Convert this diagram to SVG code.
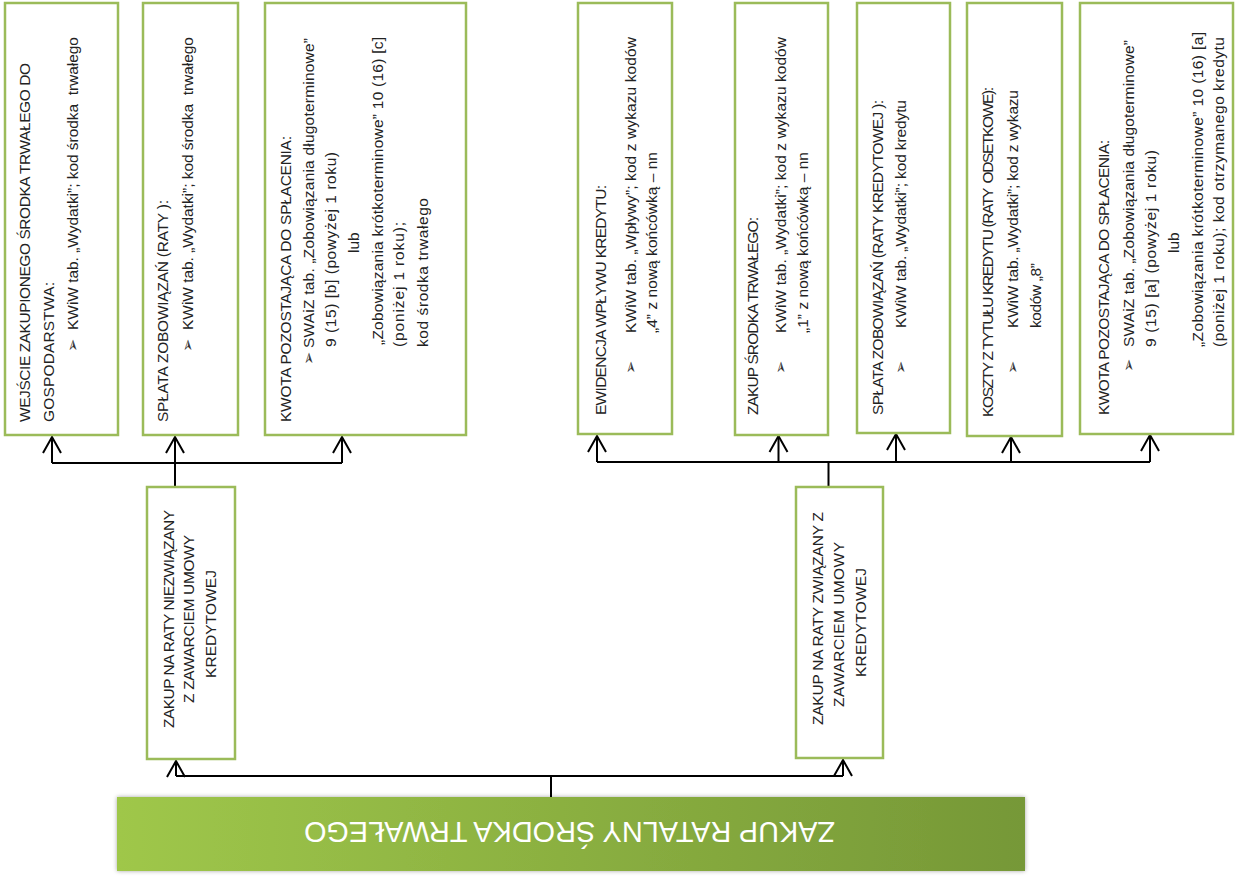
<svg xmlns="http://www.w3.org/2000/svg" width="1239" height="877" viewBox="0 0 1239 877">
<style>
.box{fill:#fff;stroke:#9bbb59;stroke-width:2.5}
.t{font-family:"Liberation Sans",Arial,sans-serif;font-size:15.5px;fill:#222}
.b{font-family:"DejaVu Sans",sans-serif;font-size:16px;fill:#333}
.ban{font-family:"Liberation Sans",Arial,sans-serif;font-size:30px;fill:#fff}
.c{fill:none;stroke:#000;stroke-width:2}
</style>
<defs>
<marker id="arr" markerUnits="userSpaceOnUse" markerWidth="22" markerHeight="22" viewBox="-19 -11 22 22" refX="0" refY="0" orient="auto">
<path d="M-16,-9 L0,0 L-16,9" fill="none" stroke="#000" stroke-width="2"/>
</marker>
<linearGradient id="g" x1="0" y1="0" x2="1" y2="0">
<stop offset="0" stop-color="#9fc74a"/>
<stop offset="1" stop-color="#769837"/>
</linearGradient>
<filter id="sh" x="-5%" y="-30%" width="110%" height="160%">
<feDropShadow dx="0" dy="0" stdDeviation="2" flood-color="#000" flood-opacity="0.35"/>
</filter>
</defs>

<g id="connectors">
<path class="c" d="M52,463 H342 M175,487 V463"/>
<path class="c" d="M52,463 V437" marker-end="url(#arr)"/>
<path class="c" d="M175,463 V437" marker-end="url(#arr)"/>
<path class="c" d="M342,463 V437" marker-end="url(#arr)"/>
<path class="c" d="M597,462 H1150 M828.5,487 V462"/>
<path class="c" d="M597,462 V436" marker-end="url(#arr)"/>
<path class="c" d="M778.5,462 V436" marker-end="url(#arr)"/>
<path class="c" d="M896,462 V434" marker-end="url(#arr)"/>
<path class="c" d="M1011,462 V437" marker-end="url(#arr)"/>
<path class="c" d="M1150,462 V435" marker-end="url(#arr)"/>
<path class="c" d="M176,776 H843 M551,797 V776"/>
<path class="c" d="M176,776 V761" marker-end="url(#arr)"/>
<path class="c" d="M843,776 V760" marker-end="url(#arr)"/>
</g>

<g id="root">
<rect x="117" y="797" width="908" height="74" fill="url(#g)" filter="url(#sh)"/>
<text class="ban" x="569.5" y="847" text-anchor="middle" textLength="531" lengthAdjust="spacingAndGlyphs" transform="rotate(180 569.5 834.5)">ZAKUP RATALNY ŚRODKA TRWAŁEGO</text>
</g>

<g id="mid-left">
<rect class="box" x="147" y="487" width="88" height="272"/>
<g transform="rotate(-90)">
<text class="t" x="-728" y="174" textLength="218">ZAKUP NA RATY NIEZWIĄZANY</text>
<text class="t" x="-703" y="194" textLength="168">Z ZAWARCIEM UMOWY</text>
<text class="t" x="-678" y="216" textLength="108">KREDYTOWEJ</text>
</g>
</g>

<g id="mid-right">
<rect class="box" x="796" y="487" width="87" height="271"/>
<g transform="rotate(-90)">
<text class="t" x="-725" y="823" textLength="213">ZAKUP NA RATY ZWIĄZANY Z</text>
<text class="t" x="-707" y="844" textLength="165">ZAWARCIEM UMOWY</text>
<text class="t" x="-677" y="866" textLength="109">KREDYTOWEJ</text>
</g>
</g>

<g id="box1">
<rect class="box" x="5" y="3" width="113" height="432"/>
<g transform="rotate(-90)">
<text class="t" x="-422" y="30" textLength="359">WEJŚCIE ZAKUPIONEGO ŚRODKA TRWAŁEGO DO</text>
<text class="t" x="-422" y="54" textLength="140">GOSPODARSTWA:</text>
<text class="b" x="-352" y="78">➢</text>
<text class="t" x="-330" y="78" textLength="293" xml:space="preserve">KWiW tab. „Wydatki”; kod środka  trwałego</text>
</g>
</g>

<g id="box2">
<rect class="box" x="143" y="3" width="95" height="432"/>
<g transform="rotate(-90)">
<text class="t" x="-422" y="168" textLength="222">SPŁATA ZOBOWIĄZAŃ (RATY ):</text>
<text class="b" x="-352" y="193">➢</text>
<text class="t" x="-330" y="193" textLength="293" xml:space="preserve">KWiW tab. „Wydatki”; kod środka  trwałego</text>
</g>
</g>

<g id="box3">
<rect class="box" x="265" y="3" width="201" height="432"/>
<g transform="rotate(-90)">
<text class="t" x="-422" y="291" textLength="286">KWOTA POZOSTAJĄCA DO SPŁACENIA:</text>
<text class="b" x="-365" y="314">➢</text>
<text class="t" x="-348" y="314" textLength="310">SWAiZ tab. „Zobowiązania długoterminowe”</text>
<text class="t" x="-347" y="336" textLength="195">9 (15) [b] (powyżej 1 roku)</text>
<text class="t" x="-253" y="359">lub</text>
<text class="t" x="-345" y="383" textLength="308">„Zobowiązania krótkoterminowe” 10 (16) [c]</text>
<text class="t" x="-347" y="404" textLength="125">(poniżej 1 roku);</text>
<text class="t" x="-347" y="428" textLength="149">kod środka trwałego</text>
</g>
</g>

<g id="box4">
<rect class="box" x="578" y="3" width="94" height="431"/>
<g transform="rotate(-90)">
<text class="t" x="-415" y="606" textLength="230">EWIDENCJA WPŁYWU KREDYTU:</text>
<text class="b" x="-374" y="636">➢</text>
<text class="t" x="-333" y="636" textLength="296">KWiW tab. „Wpływy”; kod z wykazu kodów</text>
<text class="t" x="-333" y="657" textLength="181">„4” z nową końcówką – nn</text>
</g>
</g>

<g id="box5">
<rect class="box" x="735" y="3" width="93" height="432"/>
<g transform="rotate(-90)">
<text class="t" x="-415" y="758" textLength="198">ZAKUP ŚRODKA TRWAŁEGO:</text>
<text class="b" x="-374" y="786">➢</text>
<text class="t" x="-333" y="786" textLength="296">KWiW tab. „Wydatki”; kod z wykazu kodów</text>
<text class="t" x="-333" y="808" textLength="181">„1” z nową końcówką – nn</text>
</g>
</g>

<g id="box6">
<rect class="box" x="857" y="3" width="93" height="430"/>
<g transform="rotate(-90)">
<text class="t" x="-415" y="883" textLength="315">SPŁATA ZOBOWIĄZAŃ (RATY KREDYTOWEJ ):</text>
<text class="b" x="-374" y="906">➢</text>
<text class="t" x="-328" y="906" textLength="228">KWiW tab. „Wydatki”; kod kredytu</text>
</g>
</g>

<g id="box7">
<rect class="box" x="967" y="3" width="95" height="433"/>
<g transform="rotate(-90)">
<text class="t" x="-417" y="993" textLength="330" xml:space="preserve">KOSZTY Z TYTUŁU KREDYTU (RATY  ODSETKOWE):</text>
<text class="b" x="-374" y="1018">➢</text>
<text class="t" x="-328" y="1018" textLength="238">KWiW tab. „Wydatki”; kod z wykazu</text>
<text class="t" x="-328" y="1041" textLength="65">kodów „8”</text>
</g>
</g>

<g id="box8">
<rect class="box" x="1080" y="3" width="153" height="431"/>
<g transform="rotate(-90)">
<text class="t" x="-415" y="1109" textLength="275">KWOTA POZOSTAJĄCA DO SPŁACENIA:</text>
<text class="b" x="-372" y="1134">➢</text>
<text class="t" x="-347" y="1134" textLength="307">SWAiZ tab. „Zobowiązania długoterminowe”</text>
<text class="t" x="-347" y="1156" textLength="197">9 (15) [a] (powyżej 1 roku)</text>
<text class="t" x="-253" y="1179">lub</text>
<text class="t" x="-347" y="1203" textLength="315">„Zobowiązania krótkoterminowe” 10 (16) [a]</text>
<text class="t" x="-347" y="1224" textLength="310">(poniżej 1 roku); kod otrzymanego kredytu</text>
</g>
</g>
</svg>
